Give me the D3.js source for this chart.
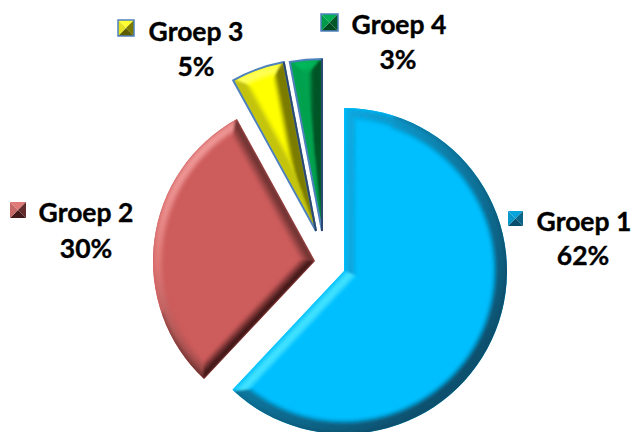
<!DOCTYPE html>
<html>
<head>
<meta charset="utf-8">
<script src="https://cdn.jsdelivr.net/npm/d3@7"></script>
<style>
  html, body { margin:0; padding:0; background:#fff; }
  svg { display:block; }
  text { font-family:Lato, "Open Sans", sans-serif; font-weight:700; font-size:26.5px; fill:#000; stroke:#000; stroke-width:0.35px; text-anchor:middle; }
</style>
</head>
<body>
<svg id="chart"></svg>
<script>
var groups = ["Groep 1", "Groep 2", "Groep 3", "Groep 4"];
var shares = [62, 30, 5, 3];

// layout of the exploded slices and the labels
var apexes = [[344, 271], [315, 261], [316, 231], [322, 231]];
var radii = [163, 162, 172, 172];
var bevels = [15, 13, 14, 14];
var fades = [3, 1.5, 2.4, 2.4];
var flats = ["#00bfff", "#cd5c5c", "#ffff00", "#00a550"];
var ramps = [
  ["#0a4f6c", "#0b7aa2", "#0aa4dc", "#45e4ff"],
  ["#421a1a", "#843e3d", "#e07a78", "#f09a98"],
  ["#5c5c00", "#989800", "#ffff30", "#ffff70"],
  ["#004a20", "#006530", "#00b055", "#00d070"]
];
var outlines = [null, null, "#4f81bd", "#4f81bd"];
var swatches = [[508, 211, 15], [10, 202, 16], [118, 20, 16], [321, 14, 17]];
var nameSpots = [[584, 231], [86, 222], [196, 41], [399, 34]];
var shareSpots = [[583, 265], [86, 258], [196, 76], [398, 69]];

var toRad = Math.PI / 180;
var bands = 10;

var svg = d3.select("#chart").attr("width", 632).attr("height", 432);
var defs = svg.append("defs");
defs.append("filter").attr("id", "soft")
  .attr("x", "-10%").attr("y", "-10%").attr("width", "120%").attr("height", "120%")
  .append("feGaussianBlur").attr("stdDeviation", 0.8);

var pie = d3.pie().sort(null).value(function(d) { return d; });
var slices = pie(shares);

// light comes from the upper left, 315 degrees clockwise from the top
var lightAt = function(rad) {
  return Math.cos(rad - 315 * toRad);
};

var polar = function(rad, dist) {
  return [Math.sin(rad) * dist, -Math.cos(rad) * dist];
};

// how much of the facet colour is used, t runs from the edge (0) to the flat part (1)
var facetWeight = function(lit, t, fade) {
  if (lit > 0.45) {
    return Math.pow(Math.sin(Math.PI * Math.min(1, t * 0.9 + 0.1)), 2);
  }
  return Math.min(1, (1 - t) * fade);
};

var drawSlice = function(slice, i) {
  var r = radii[i], b = bevels[i];
  var shade = d3.scaleLinear().domain([-1, 0, 0.7, 1]).range(ramps[i]).clamp(true);
  var a0 = slice.startAngle, a1 = slice.endAngle;
  var whole = d3.arc().innerRadius(0).outerRadius(r).startAngle(a0).endAngle(a1)();

  var g = svg.append("g")
    .attr("transform", "translate(" + apexes[i][0] + "," + apexes[i][1] + ")");

  defs.append("clipPath").attr("id", "clip" + i).append("path").attr("d", whole);

  g.append("path").attr("d", whole).attr("fill", flats[i]);

  var bevel = g.append("g").attr("clip-path", "url(#clip" + i + ")")
    .append("g").attr("filter", "url(#soft)");

  var half = (a1 - a0) / 2, mid = a0 + half;
  var inner = polar(mid, b / Math.sin(half));
  var skew = b / (r - b);

  // side facets, laid down as strips from the edge inwards
  var drawSide = function(edge, dir, normal) {
    var lit = lightAt(normal);
    var mix = d3.interpolateRgb(flats[i], shade(lit));
    var spot = function(t) {
      var inn = [inner[0] * t, inner[1] * t];
      var out = polar(edge + dir * skew * t, r + 3 - (b + 3) * t);
      return [inn, out];
    };
    d3.range(bands).forEach(function(k) {
      var p = spot(k / bands), q = spot((k + 1.2) / bands);
      bevel.append("path")
        .attr("d", d3.line()([p[0], p[1], q[1], q[0]]) + "Z")
        .attr("fill", mix(facetWeight(lit, (k + 0.5) / bands, fades[i])));
    });
  };
  drawSide(a0, 1, a0 - Math.PI / 2);
  drawSide(a1, -1, a1 + Math.PI / 2);

  // rim, cut in short pieces so the shade follows the curve
  d3.range(bands).forEach(function(k) {
    var t = (k + 0.5) / bands;
    var outer = r + 2 - (b + 2) * k / bands;
    var inn = r + 2 - (b + 2) * (k + 1.2) / bands;
    var from = a0 + skew * t, to = a1 - skew * t;
    d3.range(from, to, 1.5 * toRad).forEach(function(p) {
      var end = Math.min(p + 1.8 * toRad, to);
      var lit = lightAt((p + end) / 2);
      var colour = d3.interpolateRgb(flats[i], shade(lit))(facetWeight(lit, t, fades[i]));
      if (lit < 0.45 && t < 0.4) colour = shade(lit - 0.45 * (1 - t / 0.4));
      bevel.append("path")
        .attr("d", d3.arc().innerRadius(inn).outerRadius(outer).startAngle(p).endAngle(end)())
        .attr("fill", colour);
    });
  });

  if (outlines[i]) {
    g.append("path").attr("d", whole)
      .attr("fill", "none")
      .attr("stroke", outlines[i])
      .attr("stroke-width", 2)
      .attr("stroke-linejoin", "miter");
    // the shaded side of the outline reads darker
    g.append("path")
      .attr("d", d3.line()([[0, 0], polar(a1, r)]))
      .attr("fill", "none")
      .attr("stroke", "#2c4a70")
      .attr("stroke-width", 2);
  }
};

var drawSwatch = function(i) {
  var x = swatches[i][0], y = swatches[i][1], s = swatches[i][2];
  var shade = d3.scaleLinear().domain([-1, 0, 0.7, 1]).range(ramps[i]).clamp(true);
  var c = [x + s / 2, y + s / 2];
  var corners = [[x, y], [x + s, y], [x + s, y + s], [x, y + s]];
  var lights = [0.7, -0.5, -1, 0.5];
  lights.forEach(function(l, k) {
    svg.append("path")
      .attr("d", d3.line()([corners[k], corners[(k + 1) % 4], c]) + "Z")
      .attr("fill", shade(l));
  });
  if (outlines[i]) {
    svg.append("rect")
      .attr("x", x).attr("y", y).attr("width", s).attr("height", s)
      .attr("fill", "none").attr("stroke", outlines[i]).attr("stroke-width", 1.5);
  }
};

slices.forEach(drawSlice);

groups.forEach(function(name, i) {
  drawSwatch(i);
  svg.append("text").attr("x", nameSpots[i][0]).attr("y", nameSpots[i][1]).text(name);
  svg.append("text").attr("x", shareSpots[i][0]).attr("y", shareSpots[i][1]).text(shares[i] + "%");
});
</script>
</body>
</html>
